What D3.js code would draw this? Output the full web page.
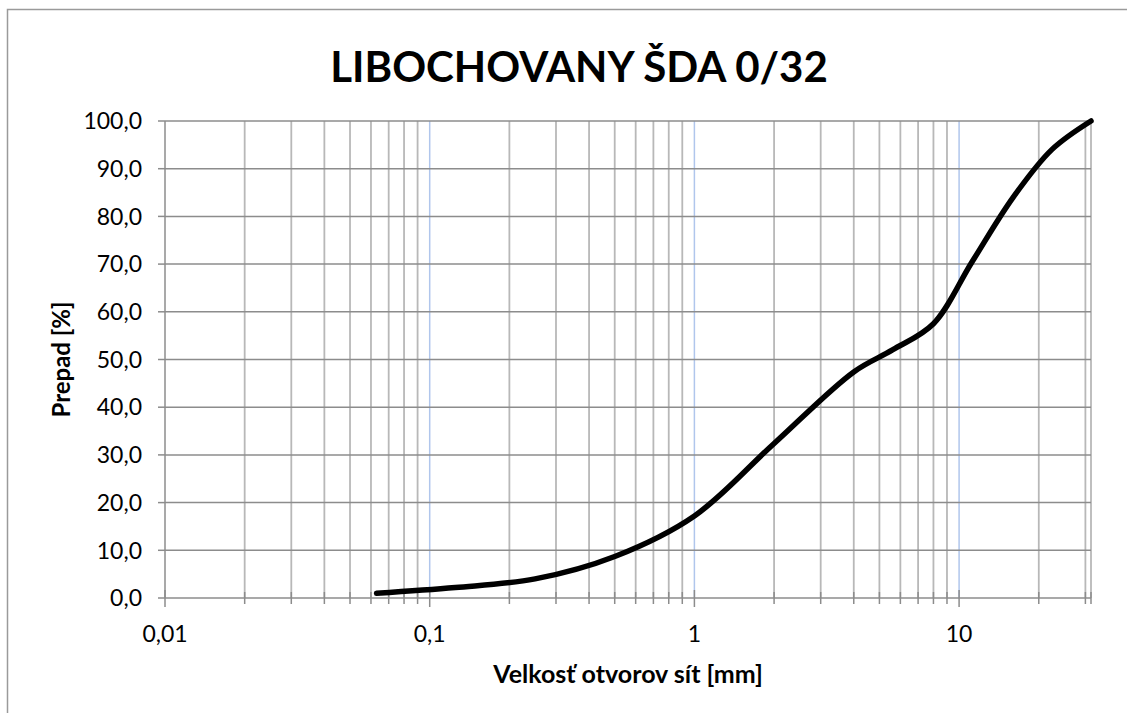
<!DOCTYPE html>
<html>
<head>
<meta charset="utf-8">
<script src="https://cdn.jsdelivr.net/npm/d3@7"></script>
<style>
  html, body { margin: 0; padding: 0; background: #fff; }
  #chart { width: 1127px; height: 713px; overflow: hidden; }
</style>
</head>
<body>
<div id="chart"></div>
<script>
'use strict'

// sieve sizes [mm] and passing [%]
const sieveSizes = [0.063, 0.125, 0.25, 0.5, 1, 2, 4, 5.6, 8, 11.2, 16, 22.4, 31.5]
const passing    = [1.0,   2.2,   4.0,  8.7, 17.2, 32.4, 47.4, 52.0, 57.5, 70.5, 84.0, 94.0, 100.0]

const xMajorTicks = [0.01, 0.1, 1, 10]
const xTickLabels = ["0,01", "0,1", "1", "10"]
const yTicks = [0, 10, 20, 30, 40, 50, 60, 70, 80, 90, 100]

const titleText = "LIBOCHOVANY ŠDA 0/32"
const xTitle = "Velkosť otvorov sít [mm]"
const yTitle = "Prepad [%]"

////////////////////////////////////
//////////// svg setup /////////////
////////////////////////////////////

const svgWidth = 1127
const svgHeight = 713
const margin = { left: 165, right: 36, top: 121, bottom: 115 }
const width = svgWidth - margin.left - margin.right
const height = svgHeight - margin.top - margin.bottom

const font_family = 'Lato, "Open Sans", sans-serif'

const root = d3.select('#chart')
  .append('svg')
  .attr('width', svgWidth)
  .attr('height', svgHeight)

// outer chart frame (runs off the page to the right and bottom)
root.append('rect')
  .attr('x', 7.5)
  .attr('y', 9.5)
  .attr('width', 1200)
  .attr('height', 800)
  .attr('fill', '#fff')
  .attr('stroke', '#9a9a9a')
  .attr('stroke-width', 1.5)

const svg = root.append('g')
  .attr('transform', `translate(${margin.left},${margin.top})`)

////////////////////////////////////
//////////// Scales ////////////////
////////////////////////////////////

const x = d3.scaleLog().domain([0.01, 31.5]).range([0, width])
const y = d3.scaleLinear().domain([0, 100]).range([height, 0])

const allXTicks = x.ticks().filter(d => d >= 0.01 && d <= 31.5)
const isMajor = d => xMajorTicks.some(m => Math.abs(m - d) / m < 1e-6)
const minorTicks = allXTicks.filter(d => !isMajor(d))

////////////////////////////////////
//////////// grid //////////////////
////////////////////////////////////

// minor vertical gridlines
svg.selectAll('.vminor')
  .data(minorTicks.concat([31.5]))
  .join('line')
  .attr('class', 'vminor')
  .attr('x1', d => x(d)).attr('x2', d => x(d))
  .attr('y1', 0).attr('y2', height)
  .attr('stroke', '#b8b8b8')
  .attr('stroke-width', 1.8)

// major vertical gridlines
svg.selectAll('.vmajor')
  .data(xMajorTicks.slice(1))
  .join('line')
  .attr('class', 'vmajor')
  .attr('x1', d => x(d)).attr('x2', d => x(d))
  .attr('y1', 0).attr('y2', height)
  .attr('stroke', '#b0c6ec')
  .attr('stroke-width', 1.5)

// horizontal gridlines
svg.selectAll('.hgrid')
  .data(yTicks)
  .join('line')
  .attr('class', 'hgrid')
  .attr('x1', 0).attr('x2', width)
  .attr('y1', d => y(d)).attr('y2', d => y(d))
  .attr('stroke', '#8c8c8c')
  .attr('stroke-width', 1.5)

////////////////////////////////////
//////////// axes //////////////////
////////////////////////////////////

// y axis line + ticks
svg.append('line')
  .attr('x1', 0).attr('x2', 0)
  .attr('y1', 0).attr('y2', height)
  .attr('stroke', '#8c8c8c')
  .attr('stroke-width', 1.5)

svg.selectAll('.ytick')
  .data(yTicks)
  .join('line')
  .attr('class', 'ytick')
  .attr('x1', -7).attr('x2', 0)
  .attr('y1', d => y(d)).attr('y2', d => y(d))
  .attr('stroke', '#8c8c8c')
  .attr('stroke-width', 1.5)

const fmt = d3.format('.1f')
svg.selectAll('.ylabel')
  .data(yTicks)
  .join('text')
  .attr('class', 'ylabel')
  .attr('x', -23)
  .attr('y', d => y(d))
  .attr('dy', '0.36em')
  .attr('text-anchor', 'end')
  .style('font-family', font_family)
  .style('font-size', '23px')
  .attr('fill', '#000')
  .text(d => fmt(d).replace('.', ','))

// x axis ticks
svg.selectAll('.xminortick')
  .data(minorTicks.concat([31.5]))
  .join('line')
  .attr('class', 'xminortick')
  .attr('x1', d => x(d)).attr('x2', d => x(d))
  .attr('y1', height - 6).attr('y2', height + 6)
  .attr('stroke', '#8c8c8c')
  .attr('stroke-width', 1.5)

svg.selectAll('.xmajortick')
  .data(xMajorTicks)
  .join('line')
  .attr('class', 'xmajortick')
  .attr('x1', d => x(d)).attr('x2', d => x(d))
  .attr('y1', height - 8).attr('y2', height + 9)
  .attr('stroke', '#8c8c8c')
  .attr('stroke-width', 1.5)

svg.selectAll('.xlabel')
  .data(xMajorTicks)
  .join('text')
  .attr('class', 'xlabel')
  .attr('x', d => x(d))
  .attr('y', height + 44)
  .attr('text-anchor', 'middle')
  .style('font-family', font_family)
  .style('font-size', '23px')
  .attr('fill', '#000')
  .text((d, i) => xTickLabels[i])

////////////////////////////////////
//////////// curve /////////////////
////////////////////////////////////

const data = sieveSizes.map((s, i) => ({ size: s, value: passing[i] }))

const line = d3.line()
  .x(d => x(d.size))
  .y(d => y(d.value))
  .curve(d3.curveCatmullRom.alpha(0.5))

svg.append('path')
  .datum(data)
  .attr('d', line)
  .attr('fill', 'none')
  .attr('stroke', '#000')
  .attr('stroke-width', 5.5)
  .attr('stroke-linecap', 'round')
  .attr('stroke-linejoin', 'round')

////////////////////////////////////
//////////// titles ////////////////
////////////////////////////////////

root.append('text')
  .attr('x', 579)
  .attr('y', 82)
  .attr('text-anchor', 'middle')
  .style('font-family', font_family)
  .style('font-weight', '700')
  .style('font-size', '42px')
  .attr('fill', '#000')
  .text(titleText)

root.append('text')
  .attr('x', margin.left + width / 2)
  .attr('y', 683)
  .attr('text-anchor', 'middle')
  .style('font-family', font_family)
  .style('font-weight', '700')
  .style('font-size', '25px')
  .attr('fill', '#000')
  .text(xTitle)

root.append('text')
  .attr('transform', `translate(70,${margin.top + height / 2}) rotate(-90)`)
  .attr('text-anchor', 'middle')
  .style('font-family', font_family)
  .style('font-weight', '700')
  .style('font-size', '24px')
  .attr('fill', '#000')
  .text(yTitle)
</script>
</body>
</html>
